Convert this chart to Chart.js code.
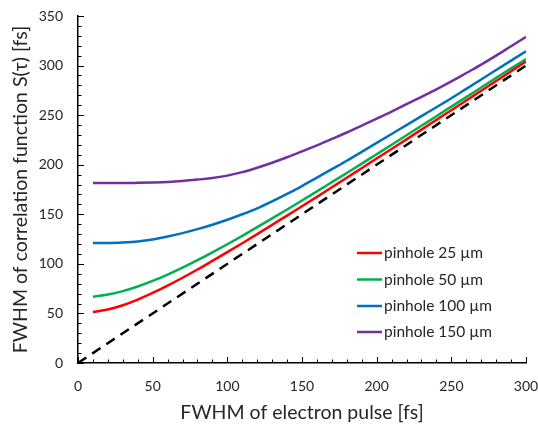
<!DOCTYPE html>
<html>
<head>
<meta charset="utf-8">
<script src="https://cdn.jsdelivr.net/npm/chart.js@4.4.1/dist/chart.umd.min.js"></script>
<style>
html,body{margin:0;padding:0;background:#fff;}
#wrap{width:538px;height:424px;position:relative;}
</style>
</head>
<body>
<div id="wrap"><canvas id="c" width="538" height="424"></canvas></div>
<script>
const pulse = [10,20,30,40,50,60,70,80,90,100,110,120,130,140,150,160,170,180,190,200,210,220,230,240,250,260,270,280,290,300];
const pin25  = [51.5,54,58.3,64,70.7,78.1,86,94.3,103,111.8,120.8,130,139.3,148.7,158.1,167.6,177.2,186.8,196.5,206.2,215.9,225.6,235.4,245.2,255,264.8,274.6,284.4,294.3,304];
const pin50  = [66.8,69,72.5,77.2,82.8,89.2,96.2,103.7,111.6,119.8,128.3,137,145.8,154.8,163.9,173.1,182.4,191.7,201.1,210.6,220.1,229.7,239.3,248.9,258.6,268.2,277.9,287.6,297.2,306.5];
const pin100 = [121,121,121.5,122.5,124.5,127.5,131,135,139.5,144.5,150,156,163,170.5,178.5,187,195.5,204,213,222,231,240,249,258,267,276.5,286,295.5,305,314.5];
const pin150 = [181.5,181.5,181.5,181.7,182,182.5,183.5,185,186.5,189,192.5,197,202,207.5,213.5,219.5,226,232.5,239.5,246.5,253.5,261,268.5,276,284,292.5,301,310,319.5,329];
const refX = [0,300];
const refY = [0,300];
const seriesLabels = ['pinhole 25 µm','pinhole 50 µm','pinhole 100 µm','pinhole 150 µm'];
const seriesColors = ['#FF0000','#00B050','#0070C0','#7030A0'];
const xTicks = [0,50,100,150,200,250,300];
const yTicks = [0,50,100,150,200,250,300,350];

const FONT = 'Lato, "Open Sans", sans-serif';
const TXT = '#262626';

function pts(xs, ys){ return xs.map((x,i)=>({x:x,y:ys[i]})); }

const seriesData = [pin25,pin50,pin100,pin150];
const datasets = seriesData.map((d,i)=>({
  label: seriesLabels[i],
  data: pts(pulse,d),
  borderColor: seriesColors[i],
  backgroundColor: seriesColors[i],
  borderWidth: 2.5,
  pointRadius: 0,
  cubicInterpolationMode: 'monotone',
  fill: false
}));
datasets.push({
  label: 'ref',
  data: pts(refX, refY),
  borderColor: '#000',
  borderWidth: 2.5,
  borderDash: [10,7],
  pointRadius: 0,
  fill: false
});

const tickPlugin = {
  id: 'inTicks',
  afterDraw(chart){
    const ctx = chart.ctx;
    const xs = chart.scales.x, ys = chart.scales.y;
    ctx.save();
    ctx.strokeStyle = '#000';
    ctx.lineWidth = 1;
    for(let v=0; v<=300; v+=10){
      const p = Math.round(xs.getPixelForValue(v))+0.5;
      const len = (v%50===0)?6:3.5;
      ctx.beginPath(); ctx.moveTo(p, ys.bottom); ctx.lineTo(p, ys.bottom-len); ctx.stroke();
    }
    for(let v=0; v<=350; v+=10){
      const p = Math.round(ys.getPixelForValue(v))+0.5;
      const len = (v%50===0)?6:3.5;
      ctx.beginPath(); ctx.moveTo(xs.left, p); ctx.lineTo(xs.left+len, p); ctx.stroke();
    }
    // legend
    const lx0 = 357, lx1 = 382, tx = 384;
    const ly = [253, 279.5, 306, 332];
    ctx.font = '15.5px ' + FONT;
    ctx.textBaseline = 'middle';
    ctx.textAlign = 'left';
    for(let i=0;i<seriesLabels.length;i++){
      ctx.strokeStyle = seriesColors[i];
      ctx.lineWidth = 2.5;
      ctx.beginPath(); ctx.moveTo(lx0, ly[i]); ctx.lineTo(lx1, ly[i]); ctx.stroke();
      ctx.fillStyle = TXT;
      ctx.fillText(seriesLabels[i], tx, ly[i]);
    }
    ctx.restore();
  }
};

new Chart(document.getElementById('c'), {
  type: 'line',
  data: { datasets },
  options: {
    responsive: false,
    animation: false,
    layout: { padding: { top: 16, right: 12, left: 0, bottom: 0 } },
    plugins: { legend: { display: false }, tooltip: { enabled: false } },
    scales: {
      x: {
        type: 'linear', min: 0, max: 300,
        afterBuildTicks(s){ s.ticks = xTicks.map(v=>({value:v})); },
        afterFit(s){ s.height = 61; s.paddingLeft = 0; s.paddingRight = 0; },
        grid: { display: false, drawTicks: false },
        border: { display: true, color: '#000', width: 1.5 },
        ticks: { color: TXT, font: { family: FONT, size: 14 }, padding: 15, maxRotation: 0 },
        title: { display: true, text: 'FWHM of electron pulse [fs]', color: TXT, font: { family: FONT, size: 19.5 }, padding: { top: 0, bottom: 0 } }
      },
      y: {
        type: 'linear', min: 0, max: 350,
        afterBuildTicks(s){ s.ticks = yTicks.map(v=>({value:v})); },
        afterFit(s){ s.width = 78; s.paddingTop = 0; s.paddingBottom = 0; },
        grid: { display: false, drawTicks: false },
        border: { display: true, color: '#000', width: 1.5 },
        ticks: { color: TXT, font: { family: FONT, size: 14 }, padding: 15 },
        title: { display: true, text: 'FWHM of correlation function S(τ) [fs]', color: TXT, font: { family: FONT, size: 19.5 }, padding: { top: 9, bottom: 0 } }
      }
    }
  },
  plugins: [tickPlugin]
});
</script>
</body>
</html>
